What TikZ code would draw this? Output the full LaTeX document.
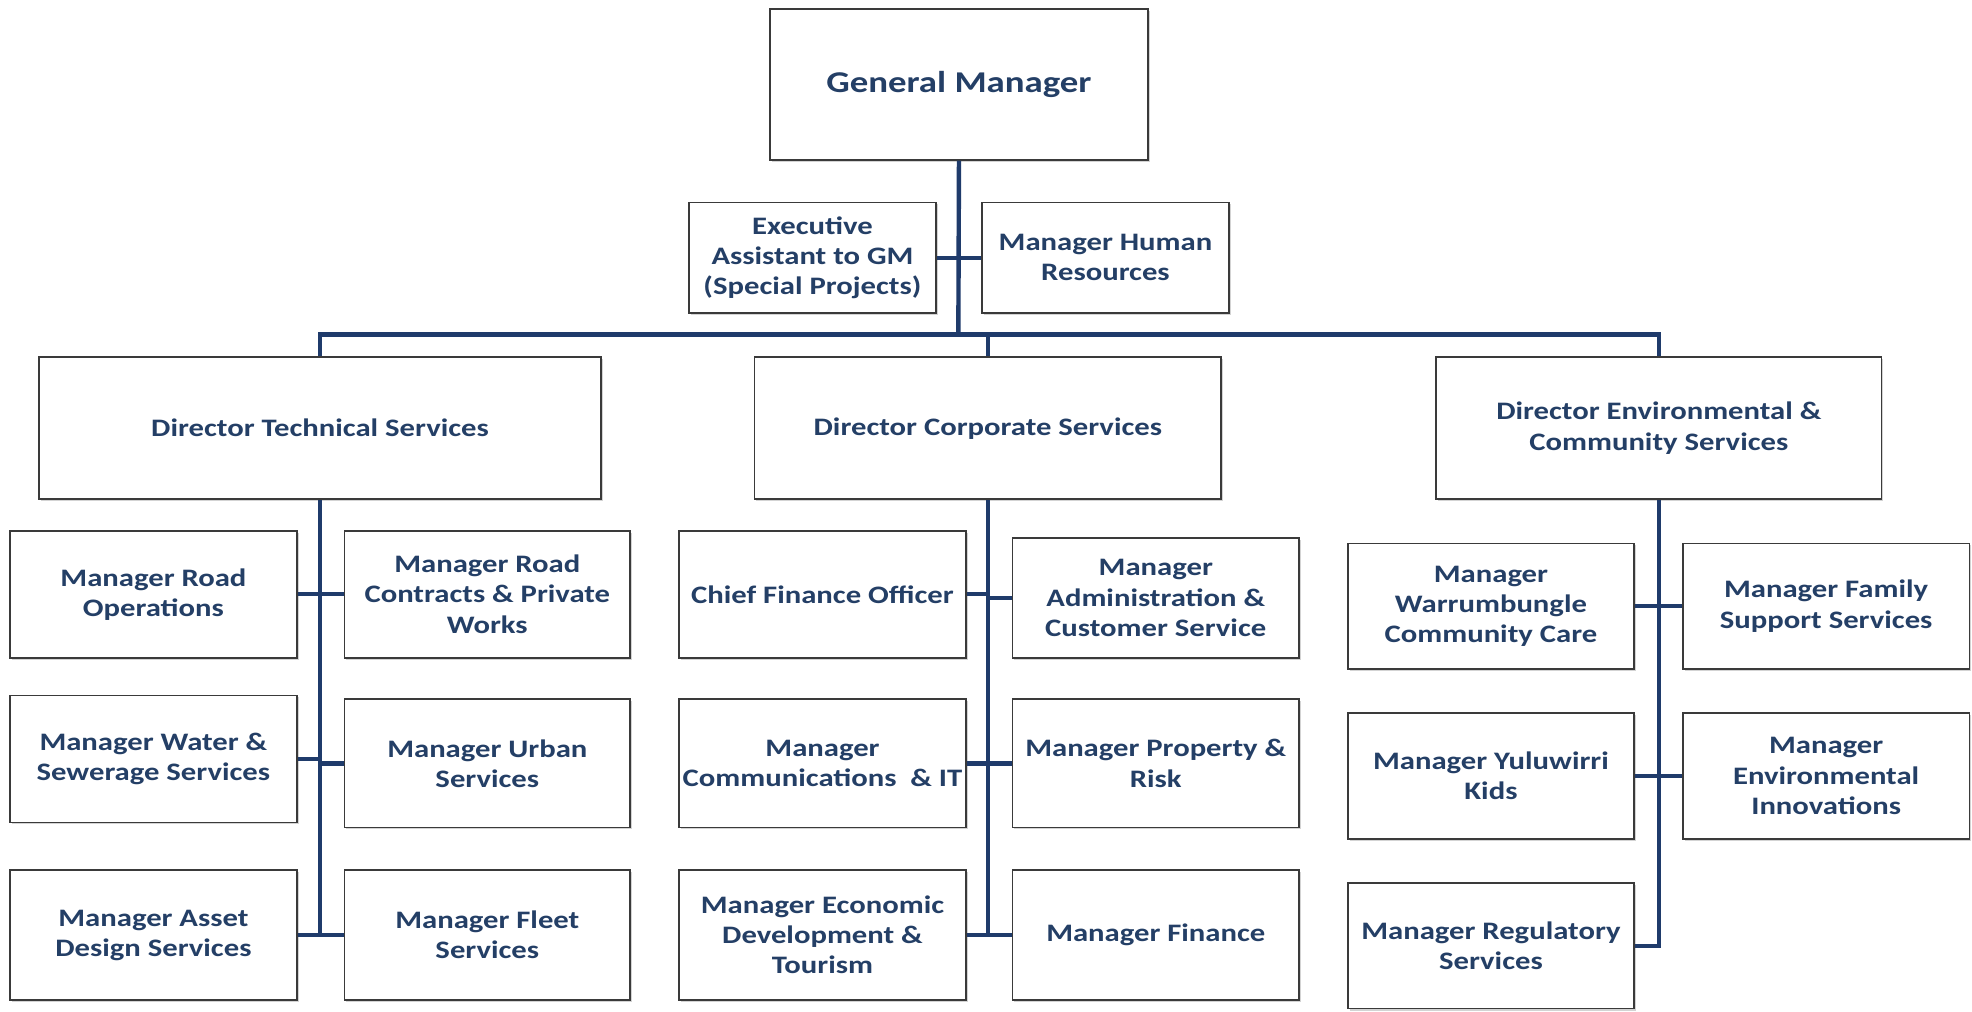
\documentclass[tikz,border=0pt]{standalone}
\usepackage{fontspec}
\setmainfont{Carlito}[FakeStretch=1.22]
\usetikzlibrary{shadows}
\definecolor{txtblue}{HTML}{243F66}
\definecolor{lineblue}{HTML}{1F3B6B}
\definecolor{boxedge}{HTML}{3A3A3A}
\tikzset{
  orgbox/.style={draw=boxedge, line width=1.3pt, fill=white, align=center,
    font=\fontsize{20}{24}\selectfont\bfseries, text=txtblue, inner sep=2pt,
    drop shadow={opacity=0.35, shadow xshift=1.5pt, shadow yshift=-1.5pt}},
  link/.style={draw=lineblue, line width=3.5pt}
}
\begin{document}
\begin{tikzpicture}[x=1pt,y=-1pt]
\useasboundingbox (0,0) rectangle (1568,804);
% top
\node[orgbox, minimum width=301pt, minimum height=120pt, font=\fontsize{24}{29}\selectfont\bfseries] (gm) at (762.5,67) {General Manager};
\node[orgbox, minimum width=196pt, minimum height=88pt] (ea) at (646,205) {Executive\\Assistant to GM\\(Special Projects)};
\node[orgbox, minimum width=196pt, minimum height=88pt] (hr) at (879,205) {Manager Human\\Resources};
% directors
\node[orgbox, minimum width=447pt, minimum height=113pt] (dts) at (254.5,340.5) {Director Technical Services};
\node[orgbox, minimum width=371pt, minimum height=113pt] (dcs) at (785.5,340.5) {Director Corporate Services};
\node[orgbox, minimum width=354pt, minimum height=113pt] (decs) at (1319,340.5) {Director Environmental \&\\Community Services};
% technical
\node[orgbox, minimum width=228pt, minimum height=101pt] (mro) at (122,472.5) {Manager Road\\Operations};
\node[orgbox, minimum width=227pt, minimum height=101pt] (mrc) at (387.5,472.5) {Manager Road\\Contracts \& Private\\Works};
\node[orgbox, minimum width=228pt, minimum height=101pt] (mws) at (122,603.5) {Manager Water \&\\Sewerage Services};
\node[orgbox, minimum width=227pt, minimum height=102pt] (mus) at (387.5,607) {Manager Urban\\Services};
\node[orgbox, minimum width=228pt, minimum height=103pt] (mad) at (122,743.5) {Manager Asset\\Design Services};
\node[orgbox, minimum width=227pt, minimum height=103pt] (mfs) at (387.5,743.5) {Manager Fleet\\Services};
% corporate
\node[orgbox, minimum width=228pt, minimum height=101pt] (cfo) at (654,472.5) {Chief Finance Officer};
\node[orgbox, minimum width=228pt, minimum height=95pt] (mac) at (919,475.5) {Manager\\Administration \&\\Customer Service};
\node[orgbox, minimum width=228pt, minimum height=102pt] (mci) at (654,607) {Manager\\Communications \ \& IT};
\node[orgbox, minimum width=228pt, minimum height=102pt] (mpr) at (919,607) {Manager Property \&\\Risk};
\node[orgbox, minimum width=228pt, minimum height=103pt] (med) at (654,743.5) {Manager Economic\\Development \&\\Tourism};
\node[orgbox, minimum width=228pt, minimum height=103pt] (mf) at (919,743.5) {Manager Finance};
% environmental
\node[orgbox, minimum width=227pt, minimum height=100pt] (mwcc) at (1185.5,482) {Manager\\Warrumbungle\\Community Care};
\node[orgbox, minimum width=228pt, minimum height=100pt] (mfss) at (1452,482) {Manager Family\\Support Services};
\node[orgbox, minimum width=227pt, minimum height=100pt] (myk) at (1185.5,617) {Manager Yuluwirri\\Kids};
\node[orgbox, minimum width=228pt, minimum height=100pt] (mei) at (1452,617) {Manager\\Environmental\\Innovations};
\node[orgbox, minimum width=227pt, minimum height=100pt] (mrs) at (1185.5,752) {Manager Regulatory\\Services};
% connectors
\coordinate (bus) at (762,266);
\coordinate (busL) at (254.5,266);
\coordinate (busR) at (1319,266);
\coordinate (busC) at (785.5,266);
\draw[link] (gm.south) -- (bus);
\draw[link] (ea.east) -- (hr.west);
\draw[link, line cap=rect] (busL) -- (busR);
\draw[link] (busL) -- (dts.north);
\draw[link] (busC) -- (dcs.north);
\draw[link] (busR) -- (decs.north);
% technical
\draw[link] (dts.south) -- (dts.south |- mad.east);
\foreach \n in {mro,mws,mad} \draw[link] (\n.east) -- (\n.east -| dts.south);
\foreach \n in {mrc,mus,mfs} \draw[link] (\n.west) -- (\n.west -| dts.south);
% corporate
\draw[link] (dcs.south) -- (dcs.south |- med.east);
\foreach \n in {cfo,mci,med} \draw[link] (\n.east) -- (\n.east -| dcs.south);
\foreach \n in {mac,mpr,mf} \draw[link] (\n.west) -- (\n.west -| dcs.south);
% environmental
\draw[link, line join=miter] (decs.south) |- (mrs.east);
\foreach \n in {mwcc,myk} \draw[link] (\n.east) -- (\n.east -| decs.south);
\foreach \n in {mfss,mei} \draw[link] (\n.west) -- (\n.west -| decs.south);
\end{tikzpicture}
\end{document}
